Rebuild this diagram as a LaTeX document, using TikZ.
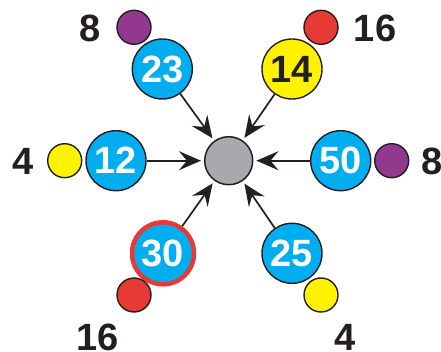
\documentclass[tikz,border=0pt]{standalone}
\usepackage{fontspec}
\setmainfont{Liberation Sans}
\usetikzlibrary{arrows.meta}
\definecolor{cblue}{HTML}{00AEEF}
\definecolor{cyel}{HTML}{FFF200}
\definecolor{cpur}{HTML}{92388F}
\definecolor{cred}{HTML}{E83A35}
\definecolor{cgray}{HTML}{A7A9AC}
\definecolor{cink}{HTML}{231F20}
\begin{document}
\begin{tikzpicture}[x=1pt,y=-1pt,
  big/.style={circle,draw=cink,line width=1.4pt,fill=cblue,minimum size=60pt,inner sep=0pt,
    font=\fontsize{38}{40}\selectfont\bfseries,text=white},
  small/.style={circle,draw=cink,line width=1.4pt,minimum size=34pt,inner sep=0pt},
  lab/.style={font=\fontsize{38}{40}\selectfont\bfseries,text=cink,inner sep=0pt},
  arr/.style={-{Stealth[length=22pt,width=19pt,inset=8pt]},line width=1.7pt,draw=cink,shorten >=3pt}]
\useasboundingbox (0,0) rectangle (441,352);
\node[circle,draw=cink,line width=1.5pt,fill=cgray,minimum size=48pt,inner sep=0pt] (c) at (228.7,160.7) {};
\node[big] (n23) at (162.3,69) {23};
\node[big,fill=cyel,text=cink] (n14) at (292,69) {14};
\node[big] (n12) at (116,160.7) {12};
\node[big] (n50) at (340.7,160.7) {50};
\node[big,draw=cred,line width=4.5pt,minimum size=62pt] (n30) at (163,253.3) {30};
\node[big] (n25) at (292,253.3) {25};
\node[small,fill=cpur] (s1) at (134,27.3) {};
\node[small,fill=cred] (s2) at (321,27.3) {};
\node[small,fill=cyel] (s3) at (64.7,160.7) {};
\node[small,fill=cpur] (s4) at (391.7,160.7) {};
\node[small,fill=cred] (s5) at (134,295) {};
\node[small,fill=cyel] (s6) at (321,295) {};
\node[lab] (l1) at (90,28) {8};
\node[lab] (l2) at (375,28) {16};
\node[lab] (l3) at (22.7,161) {4};
\node[lab,anchor=west] (l4) at (421,161) {8};
\node[lab] (l5) at (98,337) {16};
\node[lab] (l6) at (345,337) {4};
\foreach \n in {n23,n14,n12,n50,n30,n25} \draw[arr] (\n) -- (c);
\end{tikzpicture}
\end{document}
